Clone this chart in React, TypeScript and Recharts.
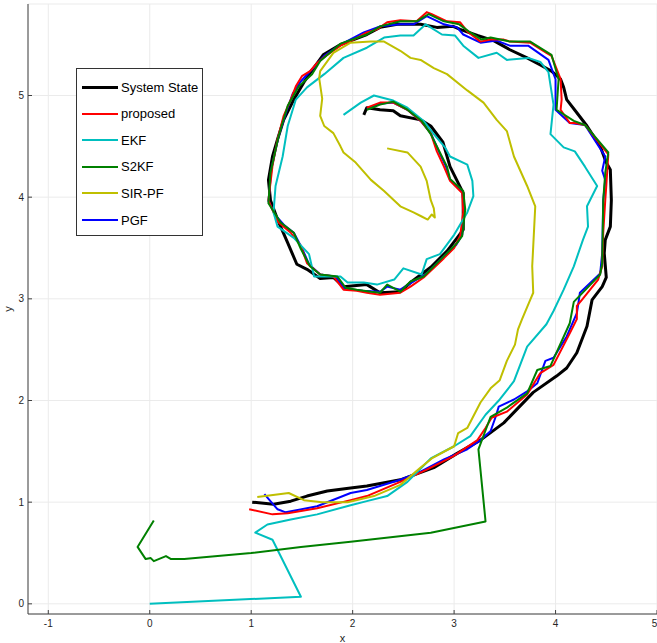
import React from 'react';
import {
  ScatterChart,
  Scatter,
  XAxis,
  YAxis,
  CartesianGrid,
  Label,
} from 'recharts';

// System State (ground truth trajectory)
const stateX = [1.01, 1.22, 1.39, 1.55, 1.75, 1.98, 2.14, 2.47, 2.8, 3.03, 3.26, 3.49, 3.78, 4.01, 4.11, 4.21, 4.31, 4.36, 4.46, 4.5, 4.48, 4.49, 4.54, 4.55, 4.54, 4.5, 4.44, 4.31, 4.21, 4.11, 4.08, 4.05, 3.96, 3.85, 3.72, 3.55, 3.39, 3.23, 3.06, 2.99, 2.83, 2.67, 2.44, 2.27, 2.14, 1.88, 1.71, 1.58, 1.52, 1.42, 1.32, 1.26, 1.21, 1.17, 1.19, 1.26, 1.36, 1.45, 1.55, 1.68, 1.81, 1.91, 2.14, 2.27, 2.47, 2.57, 2.77, 2.93, 3.03, 3.09, 3.09, 3.03, 2.96, 2.89, 2.77, 2.67, 2.47, 2.4, 2.27, 2.14, 2.11];
const stateY = [1.0, 0.98, 1.01, 1.06, 1.11, 1.14, 1.16, 1.22, 1.34, 1.48, 1.61, 1.78, 2.08, 2.24, 2.32, 2.47, 2.73, 2.99, 3.12, 3.21, 3.45, 3.58, 3.71, 3.97, 4.27, 4.34, 4.5, 4.7, 4.83, 4.96, 5.08, 5.16, 5.24, 5.3, 5.37, 5.45, 5.54, 5.59, 5.65, 5.68, 5.67, 5.7, 5.7, 5.67, 5.6, 5.5, 5.4, 5.22, 5.13, 4.96, 4.76, 4.57, 4.4, 4.17, 3.97, 3.78, 3.55, 3.34, 3.29, 3.2, 3.21, 3.12, 3.14, 3.06, 3.07, 3.16, 3.31, 3.47, 3.6, 3.68, 4.04, 4.16, 4.3, 4.54, 4.7, 4.76, 4.8, 4.85, 4.86, 4.88, 4.81];

// proposed
const propX = [0.98, 1.21, 1.36, 1.65, 1.98, 2.14, 2.47, 2.73, 2.99, 3.23, 3.31, 3.37, 3.52, 3.72, 3.85, 3.98, 4.14, 4.21, 4.21, 4.26, 4.42, 4.46, 4.47, 4.49, 4.5, 4.52, 4.29, 4.19, 4.14, 4.05, 4.06, 4.05, 3.96, 3.91, 3.75, 3.55, 3.49, 3.36, 3.26, 3.13, 3.06, 2.93, 2.78, 2.73, 2.63, 2.47, 2.34, 2.24, 2.14, 2.01, 1.88, 1.75, 1.65, 1.58, 1.5, 1.44, 1.39, 1.32, 1.26, 1.21, 1.17, 1.22, 1.27, 1.39, 1.49, 1.55, 1.68, 1.81, 1.91, 2.04, 2.14, 2.27, 2.47, 2.57, 2.7, 2.9, 3.0, 3.06, 3.09, 3.08, 2.96, 2.9, 2.83, 2.77, 2.67, 2.54, 2.4, 2.27, 2.14];
const propY = [0.93, 0.88, 0.89, 0.94, 1.02, 1.06, 1.2, 1.32, 1.45, 1.61, 1.73, 1.83, 1.89, 2.06, 2.27, 2.35, 2.66, 2.8, 2.93, 2.99, 3.19, 3.32, 3.65, 3.97, 4.11, 4.42, 4.71, 4.73, 4.73, 4.86, 4.96, 5.16, 5.39, 5.42, 5.52, 5.53, 5.55, 5.55, 5.53, 5.63, 5.72, 5.73, 5.8, 5.82, 5.73, 5.74, 5.72, 5.65, 5.62, 5.55, 5.49, 5.4, 5.32, 5.24, 5.19, 5.09, 4.96, 4.8, 4.57, 4.31, 3.97, 3.85, 3.75, 3.65, 3.52, 3.35, 3.24, 3.22, 3.09, 3.08, 3.06, 3.04, 3.06, 3.12, 3.21, 3.4, 3.5, 3.62, 3.85, 4.04, 4.16, 4.3, 4.45, 4.63, 4.75, 4.86, 4.93, 4.93, 4.88];

// EKF
const ekfX = [0.0, 1.49, 1.21, 1.04, 1.16, 1.39, 1.65, 1.98, 2.14, 2.34, 2.54, 2.77, 3.0, 3.16, 3.31, 3.45, 3.59, 3.72, 3.91, 3.98, 4.08, 4.18, 4.27, 4.32, 4.31, 4.41, 4.29, 4.19, 4.08, 3.95, 3.98, 3.93, 3.85, 3.73, 3.52, 3.42, 3.24, 3.09, 3.01, 2.88, 2.72, 2.6, 2.47, 2.31, 2.14, 1.91, 1.72, 1.55, 1.44, 1.36, 1.31, 1.24, 1.22, 1.26, 1.42, 1.57, 1.62, 1.88, 1.95, 2.11, 2.24, 2.41, 2.5, 2.68, 2.73, 2.86, 3.0, 3.13, 3.19, 3.18, 3.13, 2.96, 2.91, 2.8, 2.7, 2.54, 2.4, 2.21, 2.08, 1.91];
const ekfY = [0.0, 0.07, 0.63, 0.7, 0.78, 0.83, 0.88, 0.97, 1.01, 1.06, 1.2, 1.43, 1.55, 1.65, 1.86, 2.01, 2.19, 2.53, 2.75, 2.88, 3.09, 3.32, 3.58, 3.71, 3.91, 4.11, 4.3, 4.45, 4.49, 4.62, 4.91, 5.23, 5.33, 5.37, 5.35, 5.42, 5.37, 5.49, 5.59, 5.6, 5.7, 5.59, 5.59, 5.57, 5.47, 5.37, 5.21, 5.08, 4.96, 4.7, 4.4, 4.11, 3.85, 3.71, 3.6, 3.44, 3.22, 3.22, 3.16, 3.16, 3.14, 3.19, 3.3, 3.24, 3.39, 3.44, 3.63, 3.85, 4.01, 4.16, 4.32, 4.4, 4.49, 4.62, 4.75, 4.88, 4.95, 5.0, 4.93, 4.81];

// S2KF
const s2kfX = [0.04, -0.12, -0.04, 0.01, 0.04, 0.16, 0.21, 0.34, 1.0, 1.49, 1.98, 2.77, 3.31, 3.24, 3.36, 3.52, 3.72, 3.82, 3.95, 4.14, 4.18, 4.44, 4.46, 4.47, 4.49, 4.52, 4.29, 4.18, 4.01, 4.03, 3.96, 3.75, 3.55, 3.36, 3.27, 3.16, 3.05, 2.9, 2.75, 2.63, 2.47, 2.27, 2.14, 1.88, 1.68, 1.6, 1.47, 1.36, 1.27, 1.19, 1.17, 1.29, 1.42, 1.49, 1.58, 1.68, 1.85, 1.93, 2.04, 2.18, 2.27, 2.34, 2.47, 2.57, 2.7, 2.9, 3.03, 3.08, 3.11, 3.09, 2.96, 2.93, 2.86, 2.77, 2.68, 2.54, 2.4, 2.27, 2.14];
const s2kfY = [0.82, 0.56, 0.44, 0.45, 0.42, 0.47, 0.44, 0.44, 0.5, 0.56, 0.61, 0.7, 0.81, 1.52, 1.84, 1.93, 2.07, 2.3, 2.34, 2.76, 2.97, 3.24, 3.35, 3.97, 4.24, 4.44, 4.71, 4.75, 4.86, 5.16, 5.4, 5.53, 5.53, 5.57, 5.55, 5.62, 5.7, 5.73, 5.8, 5.73, 5.73, 5.68, 5.6, 5.51, 5.34, 5.21, 5.09, 4.9, 4.6, 4.24, 3.94, 3.75, 3.65, 3.49, 3.32, 3.24, 3.22, 3.11, 3.09, 3.07, 3.06, 3.14, 3.07, 3.17, 3.22, 3.42, 3.55, 3.62, 3.88, 4.06, 4.18, 4.3, 4.44, 4.62, 4.75, 4.86, 4.94, 4.91, 4.86];

// SIR-PF
const sirX = [1.06, 1.37, 1.52, 1.7, 1.95, 2.21, 2.47, 2.67, 2.78, 3.0, 3.04, 3.13, 3.26, 3.36, 3.45, 3.52, 3.6, 3.63, 3.67, 3.75, 3.78, 3.77, 3.8, 3.72, 3.59, 3.52, 3.42, 3.29, 3.13, 2.93, 2.8, 2.67, 2.57, 2.47, 2.31, 2.18, 1.98, 1.81, 1.68, 1.67, 1.7, 1.68, 1.72, 1.81, 1.88, 1.91, 2.03, 2.18, 2.31, 2.47, 2.6, 2.68, 2.74, 2.78, 2.81, 2.8, 2.77, 2.73, 2.67, 2.54, 2.34];
const sirY = [1.05, 1.09, 1.02, 1.0, 1.0, 1.06, 1.17, 1.34, 1.43, 1.55, 1.68, 1.73, 1.98, 2.12, 2.2, 2.39, 2.55, 2.7, 2.8, 2.99, 3.06, 3.32, 3.91, 4.11, 4.4, 4.65, 4.76, 4.93, 5.05, 5.21, 5.27, 5.35, 5.37, 5.44, 5.53, 5.53, 5.52, 5.42, 5.24, 5.17, 4.97, 4.8, 4.7, 4.63, 4.5, 4.44, 4.34, 4.17, 4.06, 3.91, 3.85, 3.81, 3.78, 3.83, 3.8, 3.89, 3.97, 4.16, 4.3, 4.44, 4.48];

// PGF
const pgfX = [1.13, 1.26, 1.34, 1.65, 1.98, 2.14, 2.47, 2.67, 2.9, 3.13, 3.26, 3.36, 3.41, 3.44, 3.59, 3.72, 3.82, 3.9, 3.98, 4.11, 4.21, 4.23, 4.24, 4.44, 4.46, 4.47, 4.49, 4.46, 4.49, 4.29, 4.14, 4.0, 4.0, 3.93, 3.73, 3.55, 3.42, 3.26, 3.09, 3.03, 2.9, 2.73, 2.6, 2.47, 2.27, 2.11, 1.88, 1.72, 1.62, 1.49, 1.41, 1.35, 1.27, 1.2, 1.17, 1.24, 1.33, 1.42, 1.5, 1.57, 1.68, 1.83, 1.92, 2.1, 2.27, 2.34, 2.47, 2.58, 2.72, 2.9, 3.02, 3.08, 3.1, 3.08, 2.96, 2.92, 2.85, 2.77, 2.67, 2.54, 2.4, 2.27, 2.14];
const pgfY = [1.08, 0.93, 0.9, 0.96, 1.09, 1.12, 1.22, 1.3, 1.42, 1.52, 1.61, 1.7, 1.84, 1.94, 2.01, 2.09, 2.17, 2.39, 2.42, 2.63, 2.86, 2.99, 3.06, 3.25, 3.45, 3.97, 4.17, 4.26, 4.4, 4.71, 4.73, 4.86, 5.16, 5.35, 5.49, 5.49, 5.54, 5.52, 5.6, 5.67, 5.7, 5.78, 5.7, 5.7, 5.68, 5.62, 5.5, 5.39, 5.28, 5.14, 5.02, 4.85, 4.6, 4.28, 3.96, 3.82, 3.72, 3.65, 3.5, 3.34, 3.24, 3.22, 3.1, 3.08, 3.07, 3.12, 3.09, 3.16, 3.24, 3.42, 3.53, 3.63, 3.88, 4.05, 4.17, 4.3, 4.45, 4.63, 4.75, 4.86, 4.93, 4.92, 4.87];

const xTicks = [-1, 0, 1, 2, 3, 4, 5];
const yTicks = [0, 1, 2, 3, 4, 5];

const toPoints = (xs: number[], ys: number[]) => xs.map((x, i) => ({ x, y: ys[i] }));

// legend order
const SERIES = [
  { name: 'System State', xs: stateX, ys: stateY, color: '#000000', width: 3 },
  { name: 'proposed', xs: propX, ys: propY, color: '#ff0000', width: 2 },
  { name: 'EKF', xs: ekfX, ys: ekfY, color: '#00bfbf', width: 2 },
  { name: 'S2KF', xs: s2kfX, ys: s2kfY, color: '#008000', width: 2 },
  { name: 'SIR-PF', xs: sirX, ys: sirY, color: '#bfbf00', width: 2 },
  { name: 'PGF', xs: pgfX, ys: pgfY, color: '#0000ff', width: 2 },
];

// drawing order (bottom to top), as it looks in the picture
const DRAW_ORDER = ['System State', 'PGF', 'proposed', 'EKF', 'S2KF', 'SIR-PF'];

const AXIS = '#404040';
const FONT = '"Liberation Sans", Arial, Helvetica, sans-serif';

const NoDot = () => <g />;

function LegendBox() {
  return (
    <div
      style={{
        position: 'absolute',
        left: 76,
        top: 68,
        width: 125,
        height: 166,
        border: '1px solid #333',
        background: '#fff',
        fontFamily: FONT,
        fontSize: 13,
        color: '#000',
      }}
    >
      {SERIES.map((s, i) => (
        <div
          key={s.name}
          style={{
            position: 'absolute',
            left: 5,
            top: 8 + i * 26.6,
            height: 20,
            display: 'flex',
            alignItems: 'center',
            whiteSpace: 'nowrap',
          }}
        >
          <span
            style={{
              display: 'inline-block',
              width: 36,
              height: 0,
              borderTop: `${s.width}px solid ${s.color}`,
              marginRight: 3,
            }}
          />
          <span>{s.name}</span>
        </div>
      ))}
    </div>
  );
}

export default function App() {
  const drawn = DRAW_ORDER.map((n) => SERIES.find((s) => s.name === n)!);
  return (
    <div style={{ position: 'absolute', left: 0, top: 0, width: 657, height: 643, background: '#fff' }}>
      <ScatterChart width={657} height={643} margin={{ top: 4, right: 0, bottom: 0, left: 0 }}>
        <CartesianGrid stroke="#ebebeb" strokeWidth={1} />
        <XAxis
          type="number"
          dataKey="x"
          domain={[-1.2, 5]}
          ticks={xTicks}
          allowDataOverflow
          height={29}
          tickSize={-4}
          tickMargin={10}
          axisLine={{ stroke: AXIS }}
          tickLine={{ stroke: AXIS }}
          tick={{ fontSize: 10, fill: '#262626', fontFamily: FONT }}
        >
          <Label value="x" position="insideBottom" offset={1} style={{ fontSize: 11, fill: '#262626', fontFamily: FONT }} />
        </XAxis>
        <YAxis
          type="number"
          dataKey="y"
          domain={[-0.1, 5.9]}
          ticks={yTicks}
          allowDataOverflow
          width={28}
          tickSize={-4}
          tickMargin={8}
          axisLine={{ stroke: AXIS }}
          tickLine={{ stroke: AXIS }}
          tick={{ fontSize: 10, fill: '#262626', fontFamily: FONT }}
        >
          <Label value="y" angle={-90} position="insideLeft" offset={8} style={{ fontSize: 11, fill: '#262626', fontFamily: FONT, textAnchor: 'middle' }} />
        </YAxis>
        {drawn.map((s) => (
          <Scatter
            key={s.name}
            name={s.name}
            data={toPoints(s.xs, s.ys)}
            fill={s.color}
            line={{ stroke: s.color, strokeWidth: s.width, strokeLinejoin: 'round' }}
            lineType="joint"
            shape={NoDot}
            legendType="none"
            isAnimationActive={false}
          />
        ))}
      </ScatterChart>
      <LegendBox />
    </div>
  );
}
